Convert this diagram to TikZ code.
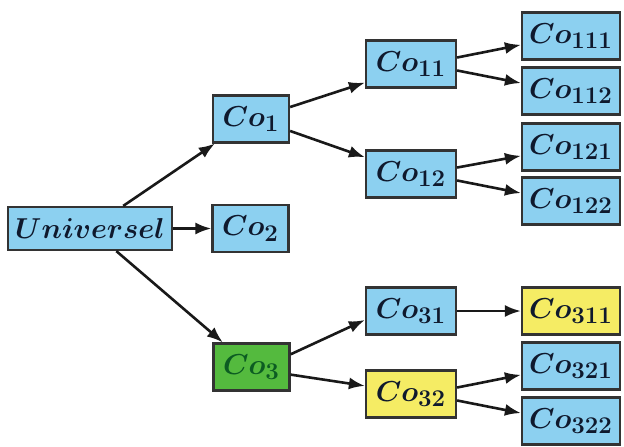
\documentclass[tikz,border=0pt]{standalone}
\usepackage{bm}
\usetikzlibrary{arrows.meta}
\DeclareMathSizes{14}{14}{12.5}{10}
\definecolor{boxblue}{RGB}{140,208,240}
\definecolor{boxyellow}{RGB}{245,236,100}
\definecolor{boxgreen}{RGB}{84,186,62}
\definecolor{textgreen}{RGB}{12,92,34}
\definecolor{textdark}{RGB}{15,25,45}
\tikzset{
  cbox/.style={draw=black!80, line width=1.1pt, fill=boxblue, text=textdark,
    inner sep=0pt, minimum height=23.5pt, font=\fontsize{14}{16}\selectfont},
  lvlone/.style={cbox, minimum width=38pt},
  lvltwo/.style={cbox, minimum width=45pt},
  lvlthree/.style={cbox, minimum width=49pt},
  arr/.style={-{Latex[length=8pt,width=6pt]}, line width=1.3pt, black!90},
}
\begin{document}
\begin{tikzpicture}[x=0.5pt,y=-0.5pt]
  \useasboundingbox (0,0) rectangle (624,446);
  % root and first level
  \node[cbox, minimum width=82pt, minimum height=21.5pt] (uni) at (90,228.5) {$\bm{Universel}$};
  \node[lvlone] (co1) at (251,119) {$\bm{Co_{1}}$};
  \node[lvlone] (co2) at (250.5,228.5) {$\bm{Co_{2}}$};
  \node[lvlone, fill=boxgreen, text=textgreen] (co3) at (251.5,367) {$\bm{Co_{3}}$};
  % second level
  \node[lvltwo] (co11) at (411,64) {$\bm{Co_{11}}$};
  \node[lvltwo] (co12) at (411,174) {$\bm{Co_{12}}$};
  \node[lvltwo] (co31) at (411,311) {$\bm{Co_{31}}$};
  \node[lvltwo, fill=boxyellow] (co32) at (411,394) {$\bm{Co_{32}}$};
  % third level
  \node[lvlthree] (co111) at (571,36) {$\bm{Co_{111}}$};
  \node[lvlthree] (co112) at (571,91) {$\bm{Co_{112}}$};
  \node[lvlthree] (co121) at (571,147) {$\bm{Co_{121}}$};
  \node[lvlthree] (co122) at (571,201) {$\bm{Co_{122}}$};
  \node[lvlthree, fill=boxyellow] (co311) at (571,311) {$\bm{Co_{311}}$};
  \node[lvlthree] (co321) at (571,366) {$\bm{Co_{321}}$};
  \node[lvlthree] (co322) at (571,421) {$\bm{Co_{322}}$};
  % arrows
  \draw[arr] (uni) -- (co1);
  \draw[arr] (uni) -- (co2);
  \draw[arr] (uni) -- (co3);
  \draw[arr] (co1.17) -- (co11.202);
  \draw[arr] (co1.-17) -- (co12.160);
  \draw[arr] (co3.18) -- (co31.191);
  \draw[arr] (co3.-11) -- (co32.170);
  \draw[arr] (co11.8) -- (co111.190);
  \draw[arr] (co11.-8) -- (co112.171);
  \draw[arr] (co12.8) -- (co121.190);
  \draw[arr] (co12.-8) -- (co122.171);
  \draw[arr] (co31) -- (co311);
  \draw[arr] (co32.8) -- (co321.190);
  \draw[arr] (co32.-8) -- (co322.171);
\end{tikzpicture}
\end{document}
